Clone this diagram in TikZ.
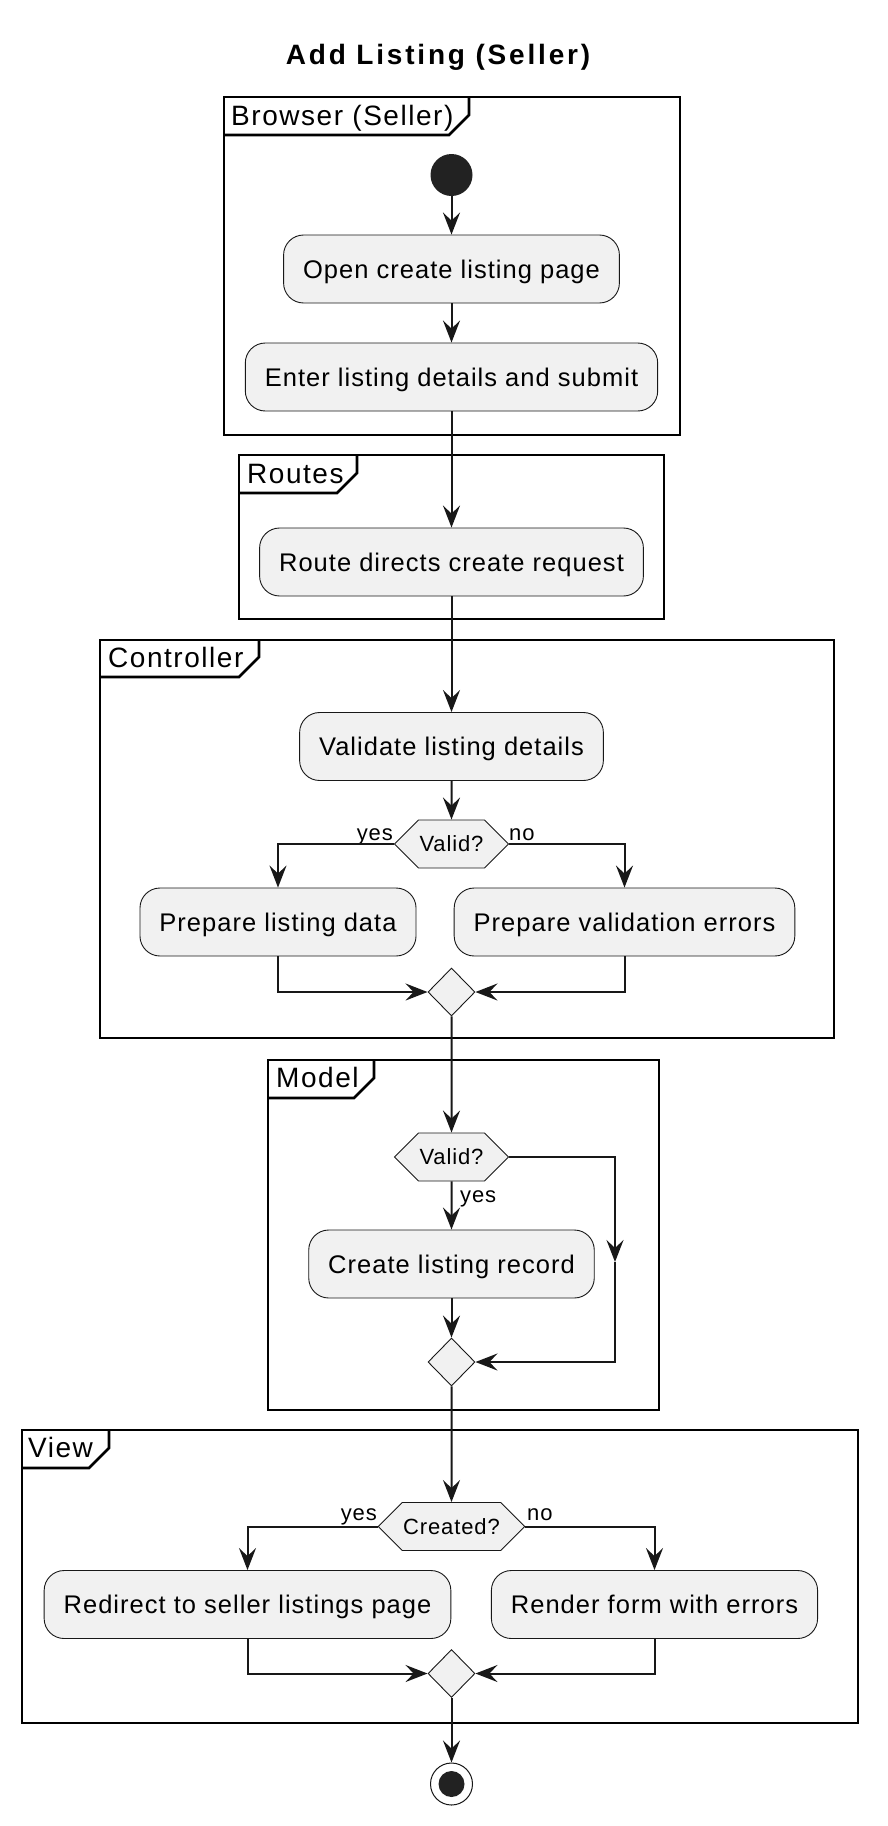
\documentclass[tikz,border=0pt]{standalone}
\usepackage{fontspec}
\setmainfont{Liberation Sans}
\newfontfamily\actfont[LetterSpace=4]{Liberation Sans}
\newfontfamily\lblfont[LetterSpace=4]{Liberation Sans}
\newfontfamily\frmfont[LetterSpace=5.5]{Liberation Sans}
\newfontfamily\ttlfont[LetterSpace=10]{Liberation Sans}
\usetikzlibrary{arrows.meta, shapes.geometric, shapes.symbols}
\definecolor{actfill}{HTML}{F1F1F1}
\definecolor{actline}{HTML}{181818}
\definecolor{dotfill}{HTML}{222222}

\begin{document}
\begin{tikzpicture}[x=1pt, y=-1pt,
    action/.style={rectangle, rounded corners=20pt, draw=actline, line width=0.9pt,
      fill=actfill, minimum height=68pt, inner xsep=19.5pt, text height=18.3pt, text depth=0pt,
      font=\actfont\fontsize{25.5}{30}\selectfont},
    choice/.style={signal, signal to=west and east, signal pointer angle=90,
      draw=actline, line width=0.9pt, fill=actfill, minimum height=48pt,
      text height=15.8pt, text depth=0pt,
      inner xsep=1pt, inner ysep=0pt, font=\lblfont\fontsize{22}{26}\selectfont},
    merge/.style={diamond, draw=actline, line width=0.9pt, fill=actfill,
      minimum width=47pt, minimum height=48pt, inner sep=0pt},
    swimframe/.style={line width=2.7pt, black, line join=miter},
    frame label/.style={anchor=base west, inner sep=0pt,
      font=\frmfont\fontsize{28}{32}\selectfont},
    branch/.style={inner sep=0pt, font=\lblfont\fontsize{22}{26}\selectfont},
    flow/.style={line width=2pt, actline, -{Stealth[length=22pt, width=17pt, inset=8pt]}}]

  \useasboundingbox (0,0) rectangle (888,1826);

  % === Title ===
  \node[font=\ttlfont\bfseries\fontsize{28}{32}\selectfont] (title) at (438,57)
    {Add Listing (Seller)};

  % === Frames (partitions) ===
  % Browser
  \draw[swimframe] (224,97) rectangle (680,435);
  \draw[swimframe] (224,135) -- (449,135) -- (469,115) -- (469,97);
  \node[frame label] (lblbrowser) at (231,125) {Browser (Seller)};
  % Routes
  \draw[swimframe] (239,455) rectangle (664,619);
  \draw[swimframe] (239,493) -- (337,493) -- (357,473) -- (357,455);
  \node[frame label] (lblroutes) at (247,483) {Routes};
  % Controller
  \draw[swimframe] (100,640) rectangle (834,1038);
  \draw[swimframe] (100,677) -- (239,677) -- (259,657) -- (259,640);
  \node[frame label] (lblcontroller) at (108,667) {Controller};
  % Model
  \draw[swimframe] (268,1060) rectangle (659,1410);
  \draw[swimframe] (268,1098) -- (354,1098) -- (374,1078) -- (374,1060);
  \node[frame label] (lblmodel) at (276,1087) {Model};
  % View
  \draw[swimframe] (22,1430) rectangle (858,1723);
  \draw[swimframe] (22,1468) -- (89,1468) -- (109,1448) -- (109,1430);
  \node[frame label] (lblview) at (28,1457) {View};

  % === Activities ===
  \node[circle, fill=dotfill, minimum size=42pt, inner sep=0pt] (start) at (451.5,175) {};
  \node[action] (open) at (451.5,269) {Open create listing page};
  \node[action] (enter) at (451.5,377) {Enter listing details and submit};
  \node[action] (route) at (451.5,562) {Route directs create request};
  \node[action] (validate) at (451.5,746.5) {Validate listing details};
  \node[choice] (valid1) at (451.5,844) {Valid?};
  \node[action] (prep) at (278,922) {Prepare listing data};
  \node[action] (errs) at (624.5,922) {Prepare validation errors};
  \node[merge] (merge1) at (451.5,992) {};
  \node[choice] (valid2) at (451.5,1157) {Valid?};
  \node[action] (create) at (451.5,1264) {Create listing record};
  \coordinate (skip) at (615,1262);
  \node[merge] (merge2) at (451.5,1362) {};
  \node[choice] (created) at (451.5,1526.5) {Created?};
  \node[action] (redirect) at (247.5,1604.5) {Redirect to seller listings page};
  \node[action] (render) at (654.5,1604.5) {Render form with errors};
  \node[merge] (merge3) at (451.5,1673.5) {};
  \node[circle, draw=actline, line width=1pt, fill=white, minimum size=42pt,
    inner sep=0pt] (stop) at (451.5,1784) {};
  \fill[dotfill] (stop) circle (13pt);

  % === Branch labels ===
  \node[branch, anchor=base east] (yes1) at (393,840) {yes};
  \node[branch, anchor=base west] (no1) at (509,840) {no};
  \node[branch, anchor=base west] (yes2) at (460,1202) {yes};
  \node[branch, anchor=base east] (yes3) at (377,1520) {yes};
  \node[branch, anchor=base west] (no3) at (527,1520) {no};

  % === Flow ===
  \draw[flow] (start) -- (open);
  \draw[flow] (open) -- (enter);
  \draw[flow] (enter) -- (route);
  \draw[flow] (route) -- (validate);
  \draw[flow] (validate) -- (valid1);
  \draw[flow] (valid1.west) -| (prep);
  \draw[flow] (valid1.east) -| (errs);
  \draw[flow] (prep) |- (merge1);
  \draw[flow] (errs) |- (merge1);
  \draw[flow] (merge1) -- (valid2);
  \draw[flow] (valid2) -- (create);
  \draw[flow] (valid2.east) -| (skip);
  \draw[flow] (skip) |- (merge2);
  \draw[flow] (create) -- (merge2);
  \draw[flow] (merge2) -- (created);
  \draw[flow] (created.west) -| (redirect);
  \draw[flow] (created.east) -| (render);
  \draw[flow] (redirect) |- (merge3);
  \draw[flow] (render) |- (merge3);
  \draw[flow] (merge3) -- (stop);

\end{tikzpicture}
\end{document}
